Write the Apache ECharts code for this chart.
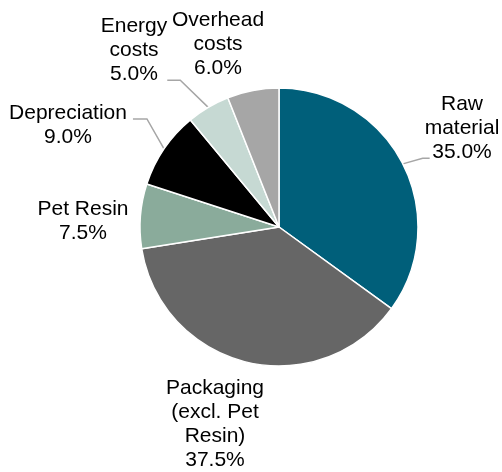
<!DOCTYPE html>
<html>
<head>
<meta charset="utf-8">
<style>
  html, body { margin: 0; padding: 0; background: #ffffff; }
  #chart { width: 502px; height: 472px; }
</style>
<script src="https://cdn.jsdelivr.net/npm/echarts@6/dist/echarts.min.js"></script>
</head>
<body>
<div id="chart"></div>
<script>
// Cost structure breakdown (share of total, %)
const categories = [
  'Raw\nmaterial',
  'Packaging\n(excl. Pet\nResin)',
  'Pet Resin',
  'Depreciation',
  'Energy\ncosts',
  'Overhead\ncosts'
];
const shares = [35.0, 37.5, 7.5, 9.0, 5.0, 6.0];
const colors = ['#005f7a', '#666666', '#8aab9b', '#000000', '#c6d9d3', '#a6a6a6'];

// Label block centres
const labelPos = [
  [462, 128],
  [215, 424],
  [83, 221],
  [68, 125],
  [134, 50],
  [218, 44]
];
// Leader line: side of the label it meets, height on the label (fraction),
// gap from the label edge and length of the horizontal stub. null = no leader.
const leaders = [
  { side: 'left', fy: 0.92, gap: -5, stub: 7 },
  null,
  null,
  { side: 'right', fy: 0.375, gap: 6, stub: 14 },
  { side: 'right', fy: 0.92, gap: 0, stub: 13 },
  null
];

const chart = echarts.init(document.getElementById('chart'), null, { renderer: 'canvas' });

const data = categories.map((name, i) => ({
  name: name,
  value: shares[i],
  itemStyle: { color: colors[i] },
  labelLine: { show: leaders[i] !== null }
}));

chart.setOption({
  animation: false,
  series: [{
    type: 'pie',
    center: [279, 227],
    radius: [0, 139],
    startAngle: 90,
    clockwise: true,
    data: data,
    itemStyle: { borderColor: '#ffffff', borderWidth: 1.5 },
    label: {
      show: true,
      formatter: p => p.name + '\n' + p.value.toFixed(1) + '%',
      fontFamily: '"Liberation Sans", Arial, sans-serif',
      fontSize: 21,
      lineHeight: 24,
      color: '#000000',
      align: 'center',
      overflow: 'none'
    },
    labelLine: {
      show: true,
      length: 10,
      length2: 8,
      lineStyle: { color: '#a6a6a6', width: 1.5 }
    },
    labelLayout: function (params) {
      const i = params.dataIndex;
      const p = labelPos[i];
      const out = { x: p[0], y: p[1], align: 'center', verticalAlign: 'middle' };
      const ld = leaders[i];
      const start = params.labelLinePoints && params.labelLinePoints[0];
      if (ld && start) {
        const w = params.labelRect.width;
        const h = params.labelRect.height;
        const top = p[1] - h / 2;
        const ey = top + h * ld.fy;
        const ex = ld.side === 'right' ? p[0] + w / 2 + ld.gap : p[0] - w / 2 - ld.gap;
        const mx = ld.side === 'right' ? ex + ld.stub : ex - ld.stub;
        out.labelLinePoints = [[start[0], start[1]], [mx, ey], [ex, ey]];
      }
      return out;
    }
  }]
});
</script>
</body>
</html>
